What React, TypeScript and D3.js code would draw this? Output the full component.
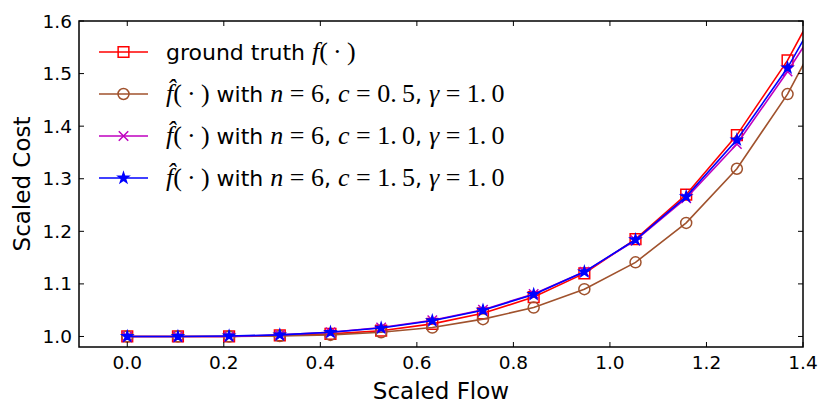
import React from "react";
import * as d3 from "d3";

// values
const flow = [0, 0.105, 0.211, 0.316, 0.421, 0.526, 0.632, 0.737, 0.842, 0.947, 1.053, 1.158, 1.263, 1.368, 1.474];
const truth = [1.0, 1.0, 1.0, 1.002, 1.005, 1.011, 1.024, 1.044, 1.075, 1.12, 1.185, 1.27, 1.383, 1.525, 1.706];
const c05 = [1.0, 1.0, 1.0, 1.001, 1.003, 1.008, 1.017, 1.033, 1.055, 1.09, 1.141, 1.216, 1.319, 1.461, 1.644];
const c10 = [1.0, 1.0, 1.0, 1.003, 1.008, 1.017, 1.031, 1.051, 1.081, 1.123, 1.183, 1.263, 1.366, 1.504, 1.655];
const c15 = [1.0, 1.0, 1.001, 1.003, 1.008, 1.016, 1.03, 1.05, 1.08, 1.123, 1.184, 1.266, 1.374, 1.511, 1.682];

const xTicks = [0.0, 0.2, 0.4, 0.6, 0.8, 1.0, 1.2, 1.4];
const yTicks = [1.0, 1.1, 1.2, 1.3, 1.4, 1.5, 1.6];
const cValues = ["0.5", "1.0", "1.5"];

const width = 830;
const height = 415;
const left = 79;
const right = 803;
const top = 21;
const bottom = 347;

const sans = "'DejaVu Sans', sans-serif";
const serif = "'Liberation Serif', 'DejaVu Serif', serif";

type Seg = { t: string; math?: boolean; it?: boolean };

const hatLabel = (c: string): Seg[] => [
  { t: "f\u0302", math: true, it: true },
  { t: "(\u2009\u00b7\u2009)", math: true },
  { t: " with " },
  { t: "n", math: true, it: true },
  { t: " = 6", math: true },
  { t: ", " },
  { t: "c", math: true, it: true },
  { t: " = " + c.replace(".", ".\u2009"), math: true },
  { t: ", " },
  { t: "\u03b3", math: true, it: true },
  { t: " = 1.\u20090", math: true },
];

const series = [
  { values: truth, color: "#ff0000", marker: "square", label: [{ t: "ground truth " }, { t: "f", math: true, it: true }, { t: "(\u2009\u00b7\u2009)", math: true }] as Seg[] },
  { values: c05, color: "#a0522d", marker: "circle", label: hatLabel(cValues[0]) },
  { values: c10, color: "#bf00bf", marker: "x", label: hatLabel(cValues[1]) },
  { values: c15, color: "#0000ff", marker: "star", label: hatLabel(cValues[2]) },
];

const symbolFor = (m: string) => {
  if (m === "square") return { path: d3.symbol(d3.symbolSquare, 115)() as string, fill: false };
  if (m === "circle") return { path: d3.symbol(d3.symbolCircle, 95)() as string, fill: false };
  if (m === "x") return { path: d3.symbol(d3.symbolX, 60)() as string, fill: false };
  return { path: d3.symbol(d3.symbolStar, 32)() as string, fill: true };
};

export default function App() {
  const x = d3.scaleLinear([-0.1, 1.4], [left, right]);
  const y = d3.scaleLinear([0.98, 1.6], [bottom, top]);
  const line = d3.line<number>((_, i) => x(flow[i]), (d) => y(d));

  return (
    <svg width={width} height={height} style={{ position: "absolute", left: 0, top: 0, background: "#fff" }}>
      <defs>
        <clipPath id="plot">
          <rect x={left} y={top} width={right - left} height={bottom - top} />
        </clipPath>
      </defs>

      <g clipPath="url(#plot)">
        {series.map((s, k) => {
          const sym = symbolFor(s.marker);
          return (
            <g key={k}>
              <path d={line(s.values) ?? ""} fill="none" stroke={s.color} strokeWidth={1.6} />
              {s.values.map((v, i) => (
                <path
                  key={i}
                  d={sym.path}
                  transform={`translate(${x(flow[i])},${y(v)})`}
                  fill={sym.fill ? s.color : "none"}
                  stroke={s.color}
                  strokeWidth={1.5}
                />
              ))}
            </g>
          );
        })}
      </g>

      {/* ticks, inward on all four sides */}
      <g stroke="#000" strokeWidth={1}>
        {xTicks.map((t) => (
          <g key={t}>
            <line x1={x(t)} x2={x(t)} y1={bottom} y2={bottom - 5} />
            <line x1={x(t)} x2={x(t)} y1={top} y2={top + 5} />
          </g>
        ))}
        {yTicks.map((t) => (
          <g key={t}>
            <line x1={left} x2={left + 5} y1={y(t)} y2={y(t)} />
            <line x1={right} x2={right - 5} y1={y(t)} y2={y(t)} />
          </g>
        ))}
      </g>
      <rect x={left} y={top} width={right - left} height={bottom - top} fill="none" stroke="#000" strokeWidth={1.5} />

      <g fontFamily={sans} fontSize={18.5} fill="#000">
        {xTicks.map((t) => (
          <text key={t} x={x(t)} y={bottom + 22} textAnchor="middle">
            {t.toFixed(1)}
          </text>
        ))}
        {yTicks.map((t) => (
          <text key={t} x={left - 7} y={y(t) + 6.5} textAnchor="end">
            {t.toFixed(1)}
          </text>
        ))}
      </g>

      <text x={(left + right) / 2} y={399} textAnchor="middle" fontFamily={sans} fontSize={23}>
        Scaled Flow
      </text>
      <text
        transform={`translate(30,${(top + bottom) / 2}) rotate(-90)`}
        textAnchor="middle"
        fontFamily={sans}
        fontSize={23}
      >
        Scaled Cost
      </text>

      {/* legend, no frame */}
      {series.map((s, k) => {
        const ly = 52 + k * 42;
        const sym = symbolFor(s.marker);
        return (
          <g key={k}>
            <line x1={99} x2={148} y1={ly} y2={ly} stroke={s.color} strokeWidth={1.6} />
            <path
              d={sym.path}
              transform={`translate(123.5,${ly})`}
              fill={sym.fill ? s.color : "none"}
              stroke={s.color}
              strokeWidth={1.5}
            />
            <text x={166} y={ly + 8} fontSize={22} fontFamily={sans} fill="#000">
              {s.label.map((seg, j) => (
                <tspan
                  key={j}
                  fontFamily={seg.math ? serif : sans}
                  fontSize={seg.math ? 26 : 22}
                  fontStyle={seg.it ? "italic" : "normal"}
                >
                  {seg.t}
                </tspan>
              ))}
            </text>
          </g>
        );
      })}
    </svg>
  );
}
